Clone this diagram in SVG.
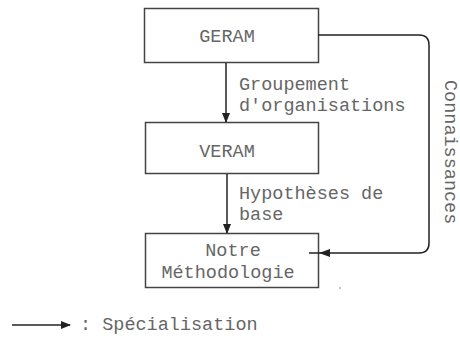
<svg xmlns="http://www.w3.org/2000/svg" width="460" height="341" viewBox="0 0 460 341">
<style>
.box{fill:#fff;stroke:#444;stroke-width:1.5}
.t{font-family:"Liberation Mono","Courier New",monospace;font-size:18.5px;fill:#666}
.c{fill:none;stroke:#222;stroke-width:1.5}
</style>
<defs>
<marker id="ah" markerWidth="10" markerHeight="8" refX="9" refY="4" orient="auto" markerUnits="userSpaceOnUse">
<path d="M0,0 L10,4 L0,8 Z" fill="#222"/>
</marker>
</defs>
<rect width="460" height="341" fill="#fff"/>
<g id="geram">
<rect class="box" x="144.5" y="8.5" width="174" height="54"/>
<text class="t" x="227" y="42" text-anchor="middle">GERAM</text>
</g>
<g id="veram">
<rect class="box" x="145.5" y="122.5" width="173" height="51"/>
<text class="t" x="227" y="157" text-anchor="middle">VERAM</text>
</g>
<g id="notre">
<rect class="box" x="145.5" y="233.5" width="173" height="54"/>
<text class="t" x="233" y="256" text-anchor="middle">Notre</text>
<text class="t" x="228" y="278" text-anchor="middle">Méthodologie</text>
</g>
<g id="connectors">
<line class="c" x1="226" y1="63" x2="226" y2="122" marker-end="url(#ah)"/>
<line class="c" x1="227" y1="174" x2="227" y2="233" marker-end="url(#ah)"/>
<path class="c" d="M318,35 H419 Q429,35 429,45 V243 Q429,253 419,253 H309"/>
<path d="M319,253 L330,249 L330,257 Z" fill="#222"/>
<text class="t" x="239" y="90">Groupement</text>
<text class="t" x="239" y="111">d'organisations</text>
<text class="t" x="239" y="199">Hypothèses de</text>
<text class="t" x="239" y="220">base</text>
<text class="t" transform="translate(445,80) rotate(90)">Connaissances</text>
</g>
<g id="legend">
<line class="c" x1="12" y1="325" x2="70" y2="325" marker-end="url(#ah)"/>
<text class="t" x="80" y="330">: Spécialisation</text>
</g>
<circle cx="340" cy="288" r="0.8" fill="#777"/>
</svg>
